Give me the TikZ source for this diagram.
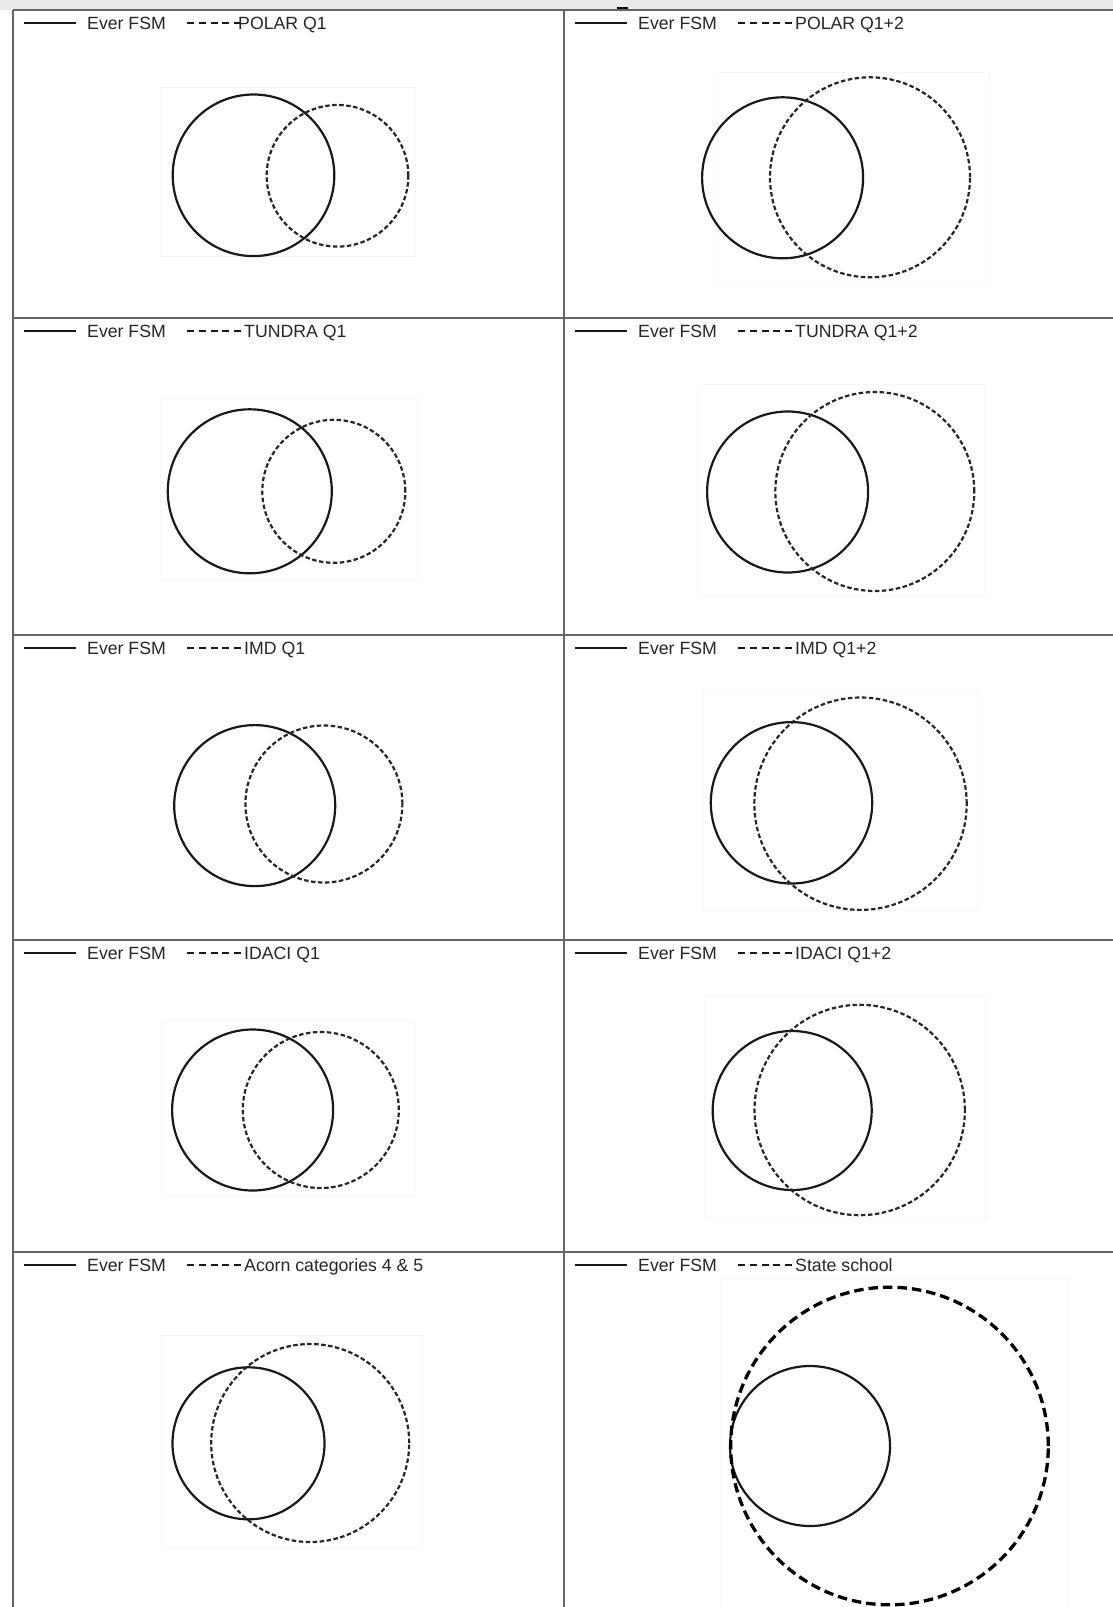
\documentclass[tikz,border=0pt]{standalone}
\usepackage{fontspec}
\setmainfont{Liberation Sans}
\tikzset{
 gridline/.style={draw=black!60, line width=1.5pt},
 legtxt/.style={anchor=base west, inner sep=0pt, font=\fontsize{17.7}{20}\selectfont, text=black!85},
 solidleg/.style={line width=2.6pt, black!90},
 dashleg/.style={line width=2pt, black!90, dash pattern=on 7pt off 4.75pt},
 solidc/.style={line width=2.2pt, black!90},
 dashc/.style={line width=2.2pt, black!85, dash pattern=on 4.5pt off 2.5pt},
 dashbig/.style={line width=3.3pt, black, dash pattern=on 9.5pt off 5pt},
 faintbox/.style={draw=black!3, line width=1pt},
}
\newcommand\legendrow[5]{%
 \coordinate (#1-s1) at (#2+11,#3+13);
 \coordinate (#1-s2) at (#2+63,#3+13);
 \draw[solidleg] (#1-s1) -- (#1-s2);
 \node[legtxt] (#1-a) at (#2+74,#3+19.5) {Ever FSM};
 \coordinate (#1-d1) at (#2+174,#3+13);
 \coordinate (#1-d2) at (#2+228,#3+13);
 \draw[dashleg] (#1-d1) -- (#1-d2);
 \node[legtxt] (#1-b) at (#2+#5,#3+19.5) {#4};
}
\begin{document}
\begin{tikzpicture}[x=1pt,y=-1pt]
\useasboundingbox (0,0) rectangle (1113,1607);
\fill[black!8] (0,0) rectangle (1113,10);
% grid
\draw[gridline] (13,10) -- (1113,10);
\draw[gridline] (13,318) -- (1113,318);
\draw[gridline] (13,635) -- (1113,635);
\draw[gridline] (13,940) -- (1113,940);
\draw[gridline] (13,1252) -- (1113,1252);
\draw[gridline] (13,10) -- (13,1607);
\draw[gridline] (564,10) -- (564,1607);
\draw[line width=2.5pt, black] (617,8) -- (628,8);
% faint image boxes
\draw[faintbox] (160,87) rectangle (415,256);
\draw[faintbox] (717,72) rectangle (989,282);
\draw[faintbox] (160,398) rectangle (417,580);
\draw[faintbox] (697,384) rectangle (984,596);
\draw[faintbox] (703,690) rectangle (978,910);
\draw[faintbox] (161,1020) rectangle (415,1196);
\draw[faintbox] (704,995) rectangle (985,1218);
\draw[faintbox] (161,1335) rectangle (422,1548);
\draw[faintbox] (720,1278) rectangle (1068,1607);
% legends
\legendrow{p1}{13}{10}{POLAR Q1}{225}
\legendrow{p2}{564}{10}{POLAR Q1+2}{231}
\legendrow{p3}{13}{318}{TUNDRA Q1}{231}
\legendrow{p4}{564}{318}{TUNDRA Q1+2}{231}
\legendrow{p5}{13}{635}{IMD Q1}{231}
\legendrow{p6}{564}{635}{IMD Q1+2}{231}
\legendrow{p7}{13}{940}{IDACI Q1}{231}
\legendrow{p8}{564}{940}{IDACI Q1+2}{231}
\legendrow{p9}{13}{1252}{Acorn categories 4 \& 5}{231}
\legendrow{p10}{564}{1252}{State school}{231}
% circles
\draw[solidc] (253.5,175.3) circle[radius=80.8pt];
\draw[dashc] (337.5,175.8) circle[radius=70.8pt];
\draw[solidc] (782.6,177.8) circle[radius=80.5pt];
\draw[dashc] (870,177.3) circle[radius=100pt];
\draw[solidc] (249.8,491.3) circle[radius=82pt];
\draw[dashc] (333.8,491.3) circle[radius=71.5pt];
\draw[solidc] (787.6,492) circle[radius=80.5pt];
\draw[dashc] (874.8,491.5) circle[radius=99.5pt];
\draw[solidc] (254.7,805.6) circle[radius=80.5pt];
\draw[dashc] (323.9,804) circle[radius=78.5pt];
\draw[solidc] (791.5,802.8) circle[radius=80.7pt];
\draw[dashc] (860.5,803.7) circle[radius=106.2pt];
\draw[solidc] (252.6,1110) circle[radius=80.5pt];
\draw[dashc] (320.8,1110) circle[radius=78pt];
\draw[solidc] (792.2,1110.5) circle[radius=79.5pt];
\draw[dashc] (859.7,1110) circle[radius=105.2pt];
\draw[solidc] (248.5,1443.3) circle[radius=76pt];
\draw[dashc] (310.2,1443) circle[radius=99pt];
\draw[solidc] (810,1446) circle[radius=80pt];
\draw[dashbig] (889.5,1446) circle[radius=158.8pt];
\end{tikzpicture}
\end{document}
